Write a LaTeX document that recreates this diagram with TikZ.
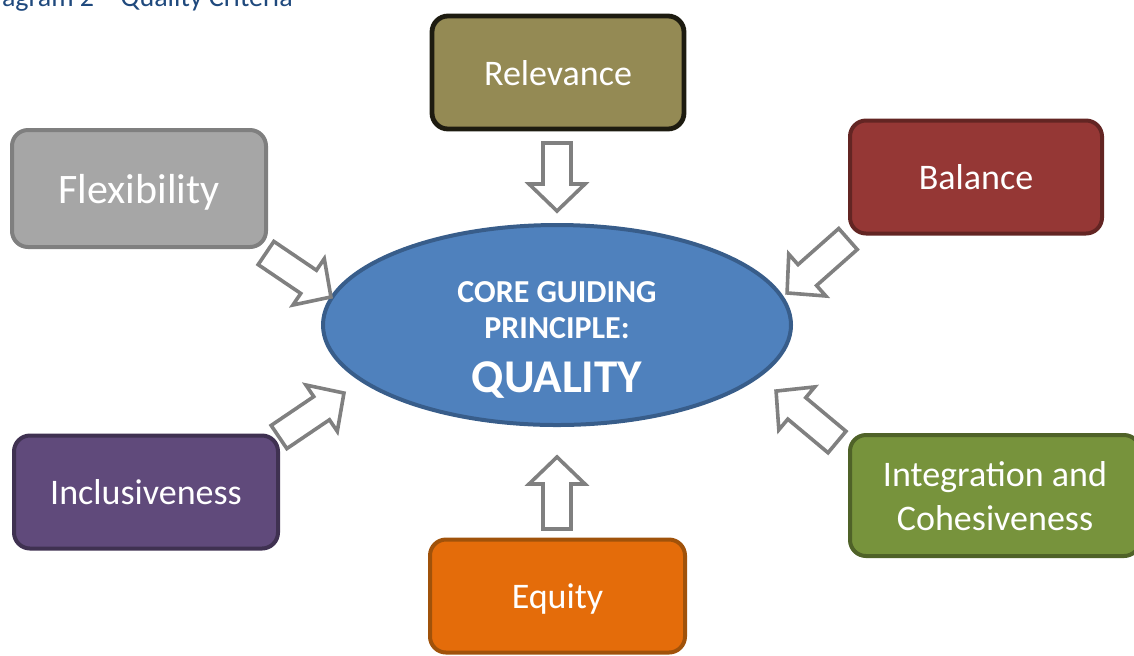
\documentclass[tikz,border=0pt]{standalone}
\usepackage{fontspec}
\setmainfont{Carlito}
\usetikzlibrary{shapes.geometric,calc}
\definecolor{capblue}{HTML}{1F497D}
\definecolor{relfill}{HTML}{948A54}
\definecolor{relline}{HTML}{1D1B10}
\definecolor{flexfill}{HTML}{A6A6A6}
\definecolor{flexline}{HTML}{7F7F7F}
\definecolor{balfill}{HTML}{953735}
\definecolor{balline}{HTML}{632523}
\definecolor{inclfill}{HTML}{604A7B}
\definecolor{inclline}{HTML}{3F3151}
\definecolor{eqfill}{HTML}{E46C0A}
\definecolor{eqline}{HTML}{A0520A}
\definecolor{intfill}{HTML}{77933C}
\definecolor{intline}{HTML}{4F6228}
\definecolor{corefill}{HTML}{4F81BD}
\definecolor{coreline}{HTML}{385D8A}
\definecolor{arrowgray}{HTML}{808080}
\tikzset{%
  crit/.style={rounded corners=8pt,minimum width=126pt,minimum height=56.5pt,
    line width=2pt,text=white,inner sep=0pt,align=center,text depth=0pt,
    font=\fontsize{18}{22}\selectfont},
  core/.style={ellipse,fill=corefill,draw=coreline,line width=2pt,
    minimum width=234pt,minimum height=100pt},
  coretxt/.style={text=white,inner sep=0pt,align=center,
    font=\bfseries\fontsize{16}{18}\selectfont},
  inarrow/.style={draw=arrowgray,fill=white,line width=1.8pt}
}
\newcommand\critarrow[2]{%
  \draw[inarrow] let \p1=($(#2)-(#1)$), \n1={atan2(\y1,\x1)}, \n2={veclen(\x1,\y1)} in
    [shift={(#1)},rotate=\n1]
    (0pt,7pt) -- ({\n2-13.5pt},7pt) -- ({\n2-13.5pt},14pt) -- (\n2,0pt)
    -- ({\n2-13.5pt},-14pt) -- ({\n2-13.5pt},-7pt) -- (0pt,-7pt) -- cycle;}

\begin{document}
\begin{tikzpicture}[x=0.5pt,y=-0.5pt]
  \useasboundingbox (0,0) rectangle (1134,655);
  \clip (0,0) rectangle (1134,655);

  \node[anchor=base west,inner sep=0pt,text=capblue,font=\fontsize{14}{17}\selectfont]
    (cap) at (-22,6) {Diagram 2 -- Quality Criteria};

  \node[core] (q) at (557,325) {};
  \node[coretxt] (qt) at (557,340)
    {CORE GUIDING\\PRINCIPLE:\\[9pt]{\fontsize{23.5}{28}\selectfont QUALITY}};

  \node[crit,fill=relfill,draw=relline,line width=2.4pt] (rel) at (558,72.5) {Relevance};
  \node[crit,fill=flexfill,draw=flexline,font=\fontsize{21}{25}\selectfont,
    minimum width=127pt,minimum height=58.5pt] (flex) at (139,188.5) {Flexibility};
  \node[crit,fill=balfill,draw=balline] (bal) at (976,177) {Balance};
  \node[crit,fill=inclfill,draw=inclline,minimum width=132pt] (incl) at (146,492) {Inclusiveness};
  \node[crit,fill=eqfill,draw=eqline,minimum width=127.5pt] (eq) at (557.5,596) {Equity};
  \node[crit,fill=intfill,draw=intline,minimum width=145pt,minimum height=60.5pt]
    (int) at (995,495.5) {Integration and\\Cohesiveness};

  \coordinate (rel-a) at (557,143);  \coordinate (rel-b) at (557,211);
  \coordinate (flex-a) at (266,253); \coordinate (flex-b) at (331,297);
  \coordinate (bal-a) at (848,239);  \coordinate (bal-b) at (787,293);
  \coordinate (incl-a) at (279,437); \coordinate (incl-b) at (344,393);
  \coordinate (int-a) at (837,442);  \coordinate (int-b) at (776,391);
  \coordinate (eq-a) at (557,529);   \coordinate (eq-b) at (557,457);

  \critarrow{rel-a}{rel-b}
  \critarrow{flex-a}{flex-b}
  \critarrow{bal-a}{bal-b}
  \critarrow{incl-a}{incl-b}
  \critarrow{int-a}{int-b}
  \critarrow{eq-a}{eq-b}
\end{tikzpicture}
\end{document}
